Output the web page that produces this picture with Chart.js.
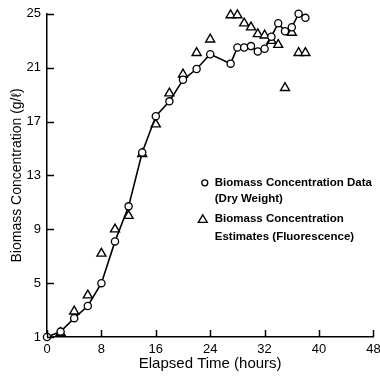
<!DOCTYPE html>
<html>
<head>
<meta charset="utf-8">
<script src="https://cdn.jsdelivr.net/npm/chart.js@4.4.0/dist/chart.umd.min.js"></script>
<style>
  html, body { margin: 0; padding: 0; background: #fff; }
  #wrap { width: 380px; height: 381px; }
</style>
</head>
<body>
<div id="wrap"><canvas id="chartBiomass" width="380" height="381"></canvas></div>
<script>
// dry weight measurements (circles, joined by line)
var dryHours = [0, 2, 4, 6, 8, 10, 12, 14, 16, 18, 20, 22, 24, 27, 28, 29, 30, 31, 32, 33, 34, 35, 36, 37, 38];
var dryBiomass = [1.0, 1.4, 2.4, 3.3, 5.0, 8.1, 10.7, 14.7, 17.4, 18.5, 20.1, 20.9, 22.0, 21.3, 22.5, 22.5, 22.6, 22.2, 22.4, 23.3, 24.3, 23.7, 24.0, 25.0, 24.7];

// fluorescence estimates (triangles)
var fluoHours = [2, 4, 6, 8, 10, 12, 14, 16, 18, 20, 22, 24, 27, 28, 29, 30, 31, 32, 33, 34, 35, 36, 37, 38];
var fluoBiomass = [1.3, 2.9, 4.1, 7.2, 9.0, 10.0, 14.6, 16.8, 19.1, 20.5, 22.1, 23.1, 24.9, 24.9, 24.3, 24.0, 23.5, 23.4, 23.0, 22.7, 19.5, 23.6, 22.1, 22.1];

var xTicks = [0, 8, 16, 24, 32, 40, 48];
var yTicks = [1, 5, 9, 13, 17, 21, 25];

var legendLines = [
    ['Biomass Concentration Data', '(Dry Weight)'],
    ['Biomass Concentration', 'Estimates (Fluorescence)']
];

var fontName = '"Liberation Sans", Arial, sans-serif';

function toPoints(xs, ys) {
    return xs.map(function(x, i) { return { x: x, y: ys[i] }; });
}

// ticks pointing into the plot, like the original
var innerTicks = {
    id: 'innerTicks',
    afterDraw: function(chart) {
        var ctx = chart.ctx, a = chart.chartArea;
        var xs = chart.scales.x, ys = chart.scales.y;
        ctx.save();
        ctx.strokeStyle = '#000';
        ctx.lineWidth = 1.5;
        ctx.beginPath();
        xTicks.forEach(function(v) {
            var px = Math.round(xs.getPixelForValue(v)) + 0.5;
            ctx.moveTo(px, a.bottom);
            ctx.lineTo(px, a.bottom - 7);
        });
        yTicks.forEach(function(v) {
            var py = Math.round(ys.getPixelForValue(v)) + 0.5;
            ctx.moveTo(a.left, py);
            ctx.lineTo(a.left + 7, py);
        });
        ctx.stroke();
        ctx.restore();
    }
};

var innerLegend = {
    id: 'innerLegend',
    afterDraw: function(chart) {
        var ctx = chart.ctx, a = chart.chartArea;
        var x0 = a.left + (a.right - a.left) * 0.514;
        var y0 = a.top + (a.bottom - a.top) * 0.523;
        ctx.save();
        ctx.fillStyle = '#000';
        ctx.strokeStyle = '#000';
        ctx.lineWidth = 1.3;
        ctx.font = 'bold 11.5px ' + fontName;
        ctx.textBaseline = 'middle';
        ctx.textAlign = 'left';

        // circle marker
        ctx.beginPath();
        ctx.arc(x0 - 10, y0, 3, 0, Math.PI * 2);
        ctx.stroke();
        ctx.fillText(legendLines[0][0], x0, y0);
        ctx.fillText(legendLines[0][1], x0, y0 + 16);

        // triangle marker
        var ty = y0 + 36;
        ctx.beginPath();
        ctx.moveTo(x0 - 12, ty - 4);
        ctx.lineTo(x0 - 7.5, ty + 3.5);
        ctx.lineTo(x0 - 16.5, ty + 3.5);
        ctx.closePath();
        ctx.stroke();
        ctx.fillText(legendLines[1][0], x0, ty);
        ctx.fillText(legendLines[1][1], x0, ty + 18);
        ctx.restore();
    }
};

var ctx = document.getElementById('chartBiomass');
var myChart = new Chart(ctx, {
    type: 'scatter',
    data: {
        datasets: [{
            label: 'Biomass Concentration Data (Dry Weight)',
            data: toPoints(dryHours, dryBiomass),
            showLine: true,
            clip: false,
            borderColor: '#000000',
            borderWidth: 1.6,
            pointStyle: 'circle',
            pointRadius: 3.6,
            pointBorderWidth: 1.3,
            pointBackgroundColor: '#ffffff',
            pointBorderColor: '#000000',
            order: 1
        }, {
            label: 'Biomass Concentration Estimates (Fluorescence)',
            data: toPoints(fluoHours, fluoBiomass),
            showLine: false,
            clip: false,
            pointStyle: 'triangle',
            pointRadius: 5.2,
            pointBorderWidth: 1.4,
            pointBackgroundColor: '#ffffff',
            pointBorderColor: '#000000',
            order: 2
        }]
    },
    options: {
        responsive: false,
        animation: false,
        layout: { padding: { top: 13, right: 0 } },
        plugins: {
            legend: { display: false },
            tooltip: { enabled: false }
        },
        scales: {
            x: {
                type: 'linear',
                min: 0,
                max: 48,
                afterBuildTicks: function(s) { s.ticks = xTicks.map(function(v) { return { value: v }; }); },
                afterFit: function(s) { s.height = 44; s.paddingRight = 6; },
                grid: { drawOnChartArea: false, drawTicks: false },
                border: { color: '#000', width: 1.5 },
                ticks: { color: '#000', padding: 5, font: { family: fontName, size: 13 } },
                title: {
                    display: true,
                    text: 'Elapsed Time (hours)',
                    color: '#000',
                    font: { family: fontName, size: 15 },
                    padding: { top: 0, bottom: 8 }
                }
            },
            y: {
                type: 'linear',
                min: 1,
                max: 25,
                afterBuildTicks: function(s) { s.ticks = yTicks.map(function(v) { return { value: v }; }); },
                afterFit: function(s) { s.width = 47; },
                grid: { drawOnChartArea: false, drawTicks: false },
                border: { color: '#000', width: 1.5 },
                ticks: { color: '#000', padding: 6, font: { family: fontName, size: 13 } },
                title: {
                    display: true,
                    text: 'Biomass Concentration (g/ℓ)',
                    color: '#000',
                    font: { family: fontName, size: 14 },
                    padding: { top: 9, bottom: 0 }
                }
            }
        }
    },
    plugins: [innerTicks, innerLegend]
});
</script>
</body>
</html>
